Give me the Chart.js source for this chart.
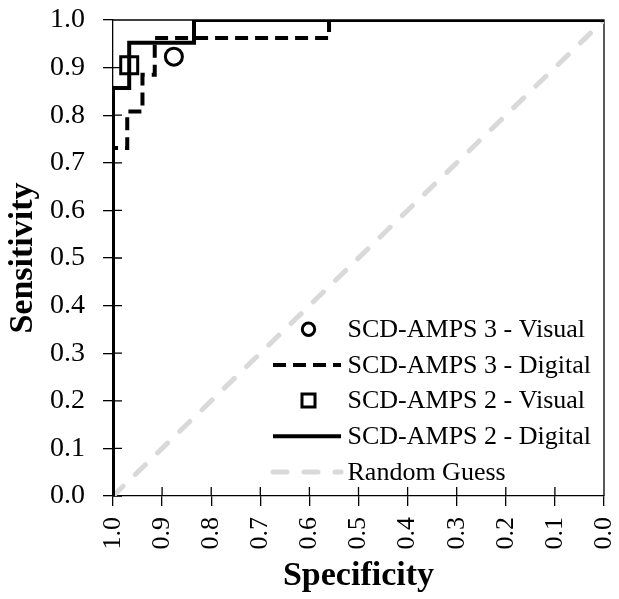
<!DOCTYPE html>
<html>
<head>
<meta charset="utf-8">
<script src="https://cdn.jsdelivr.net/npm/chart.js@4.4.1/dist/chart.umd.min.js"></script>
<style>
  html, body { margin: 0; padding: 0; background: #fff; }
  canvas { display: block; }
</style>
</head>
<body>
<canvas id="roc" width="619" height="599"></canvas>
<script>
// ── Data (specificity on x, sensitivity on y) ────────────────────────────────

const seriesNames = [
  'SCD-AMPS 3 - Visual',
  'SCD-AMPS 3 - Digital',
  'SCD-AMPS 2 - Visual',
  'SCD-AMPS 2 - Digital',
  'Random Guess',
];

const amps3VisualSpec = [0.876];
const amps3VisualSens = [0.923];

const amps3DigitalSpec = [1.0, 1.0,   0.971, 0.971, 0.940, 0.940, 0.915, 0.915, 0.560, 0.560, 0.0];
const amps3DigitalSens = [0.0, 0.731, 0.731, 0.808, 0.808, 0.885, 0.885, 0.962, 0.962, 1.0,   1.0];

const amps2VisualSpec = [0.967];
const amps2VisualSens = [0.905];

const amps2DigitalSpec = [1.0, 1.0,   0.967, 0.967, 0.835, 0.835, 0.0];
const amps2DigitalSens = [0.0, 0.857, 0.857, 0.952, 0.952, 1.0,   1.0];

const randomSpec = [1.0, 0.0];
const randomSens = [0.0, 1.0];

const FONT = '"Liberation Serif", "Times New Roman", serif';

// ── Helpers ───────────────────────────────────────────────────────────────────

const pts = (xs, ys) => xs.map((x, i) => ({ x, y: ys[i] }));

// keep the plot box fixed: no extra room for overhanging tick labels
const noOverhang = s => {
  s.paddingTop = 0;
  s.paddingBottom = 0;
  s.paddingLeft = 0;
  s.paddingRight = 0;
};

// inner halves of the tick marks, the top/right frame
const frameTicks = {
  id: 'frameTicks',
  beforeDatasetsDraw(chart) {
    const { ctx, chartArea: a, scales: { x, y } } = chart;
    ctx.save();
    ctx.strokeStyle = '#000';
    ctx.lineWidth = 1.3;
    ctx.beginPath();
    x.ticks.forEach(t => {
      const px = x.getPixelForValue(t.value);
      ctx.moveTo(px, a.bottom);
      ctx.lineTo(px, a.bottom - 9);
    });
    y.ticks.forEach(t => {
      const py = y.getPixelForValue(t.value);
      ctx.moveTo(a.left, py);
      ctx.lineTo(a.left + 9, py);
    });
    ctx.moveTo(a.left, a.top);
    ctx.lineTo(a.right, a.top);
    ctx.lineTo(a.right, a.bottom);
    ctx.stroke();
    ctx.restore();
  },
};

// legend inside the plot, bottom right
const insideLegend = {
  id: 'insideLegend',
  afterDraw(chart) {
    const { ctx, chartArea: a } = chart;
    const sets = chart.data.datasets;
    const rowH = 35.7;
    const textX = a.right - 256.5;
    const lineX0 = a.right - 331;
    const lineX1 = a.right - 263;
    const markX = a.right - 295.5;
    ctx.save();
    ctx.font = `26px ${FONT}`;
    ctx.textBaseline = 'middle';
    ctx.fillStyle = '#000';
    sets.forEach((ds, i) => {
      const yy = a.bottom - 24 - (sets.length - 1 - i) * rowH;
      ctx.save();
      if (ds.showLine) {
        ctx.strokeStyle = ds.borderColor;
        ctx.lineWidth = ds.borderWidth;
        ctx.lineCap = ds.borderCapStyle || 'butt';
        ctx.setLineDash(ds.borderDash || []);
        ctx.beginPath();
        ctx.moveTo(lineX0, yy);
        ctx.lineTo(lineX1, yy);
        ctx.stroke();
      } else {
        ctx.strokeStyle = ds.pointBorderColor;
        ctx.lineWidth = 3;
        ctx.beginPath();
        if (ds.pointStyle === 'rect') {
          ctx.rect(markX - 6.5, yy - 6.5, 13, 13);
        } else {
          ctx.arc(markX, yy, 6.2, 0, Math.PI * 2);
        }
        ctx.stroke();
      }
      ctx.restore();
      ctx.fillText(seriesNames[i], textX, yy + 1);
    });
    ctx.restore();
  },
};

// ── Chart ─────────────────────────────────────────────────────────────────────

Chart.defaults.font.family = FONT;
Chart.defaults.color = '#000';

new Chart(document.getElementById('roc').getContext('2d'), {
  type: 'scatter',
  data: {
    datasets: [
      {
        label: seriesNames[0],
        data: pts(amps3VisualSpec, amps3VisualSens),
        showLine: false,
        pointStyle: 'circle',
        pointRadius: 8.5,
        pointBorderWidth: 3,
        pointBorderColor: '#000',
        pointBackgroundColor: 'rgba(255,255,255,0)',
      },
      {
        label: seriesNames[1],
        data: pts(amps3DigitalSpec, amps3DigitalSens),
        showLine: true,
        borderColor: '#000',
        borderWidth: 4,
        borderDash: [13, 7],
        pointRadius: 0,
      },
      {
        label: seriesNames[2],
        data: pts(amps2VisualSpec, amps2VisualSens),
        showLine: false,
        pointStyle: 'rect',
        pointRadius: 12,
        pointBorderWidth: 3,
        pointBorderColor: '#000',
        pointBackgroundColor: 'rgba(255,255,255,0)',
      },
      {
        label: seriesNames[3],
        data: pts(amps2DigitalSpec, amps2DigitalSens),
        showLine: true,
        borderColor: '#000',
        borderWidth: 4,
        pointRadius: 0,
      },
      {
        label: seriesNames[4],
        data: pts(randomSpec, randomSens),
        showLine: true,
        borderColor: '#d9d9d9',
        borderWidth: 5,
        borderDash: [14, 17],
        borderCapStyle: 'round',
        pointRadius: 0,
      },
    ],
  },
  options: {
    responsive: false,
    animation: false,
    devicePixelRatio: 1,
    layout: { padding: { left: 0, right: 14.5, top: 20, bottom: 0 } },
    plugins: {
      legend: { display: false },
      tooltip: { enabled: false },
    },
    scales: {
      x: {
        type: 'linear',
        reverse: true,
        min: 0,
        max: 1,
        afterFit: s => { s.height = 103; noOverhang(s); },
        ticks: {
          stepSize: 0.1,
          minRotation: 90,
          maxRotation: 90,
          padding: 11,
          font: { size: 26 },
          color: '#000',
          callback: v => v.toFixed(1),
        },
        grid: { drawOnChartArea: false, tickLength: 10, color: '#000', lineWidth: 1.3 },
        border: { color: '#000', width: 1.3 },
        title: {
          display: true,
          text: 'Specificity',
          font: { size: 34, weight: 'bold' },
          color: '#000',
          padding: { top: 0, bottom: 2 },
        },
      },
      y: {
        type: 'linear',
        min: 0,
        max: 1,
        afterFit: s => { s.width = 113; noOverhang(s); },
        ticks: {
          stepSize: 0.1,
          padding: 18,
          font: { size: 28 },
          color: '#000',
          callback: v => v.toFixed(1),
        },
        grid: { drawOnChartArea: false, tickLength: 10, color: '#000', lineWidth: 1.3 },
        border: { color: '#000', width: 1.3 },
        title: {
          display: true,
          text: 'Sensitivity',
          font: { size: 34, weight: 'bold' },
          color: '#000',
          padding: { top: 3, bottom: 0 },
        },
      },
    },
  },
  plugins: [frameTicks, insideLegend],
});
</script>
</body>
</html>
